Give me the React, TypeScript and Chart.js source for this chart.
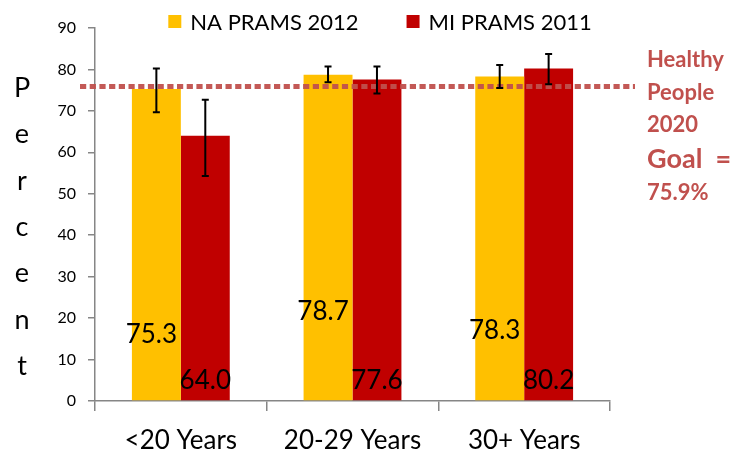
import React, { useEffect, useRef } from 'react';
import { Chart, registerables } from 'chart.js';

Chart.register(...registerables);

const categories = ['<20 Years', '20-29 Years', '30+ Years'];
const seriesNames = ['NA PRAMS 2012', 'MI PRAMS 2011'];
const naValues = [75.3, 78.7, 78.3];
const miValues = [64.0, 77.6, 80.2];
const naLow = [69.7, 76.9, 75.5];
const naHigh = [80.2, 80.7, 81.1];
const miLow = [54.3, 74.2, 76.4];
const miHigh = [72.7, 80.7, 83.7];
const goalValue = 75.9;
const yMin = 0;
const yMax = 90;
const yStep = 10;
const naLabelAt = [16, 21.5, 17];
const miLabelAt = [5, 5, 5];
const axisTitle = 'Percent';
const goalText = ['Healthy', 'People', '2020', 'Goal  =', '75.9%'];

const YELLOW = '#FFC000';
const RED = '#C00000';
const GOAL = '#C0504D';
const AXIS = '#868686';
const FONT = 'Lato, "Open Sans", sans-serif';

const lowArr = [naLow, miLow];
const highArr = [naHigh, miHigh];
const labelAt = [naLabelAt, miLabelAt];
const labelShift = [-5, 0];

const overlay = {
  id: 'overlay',
  afterDatasetsDraw(chart: any) {
    const ctx = chart.ctx;
    const y = chart.scales.y;
    const area = chart.chartArea;
    // goal line
    ctx.save();
    ctx.strokeStyle = 'rgba(192,80,77,0.95)';
    ctx.lineWidth = 5;
    ctx.setLineDash([6.2, 3.5]);
    const gy = y.getPixelForValue(goalValue);
    ctx.beginPath();
    ctx.moveTo(area.left - 15, gy);
    ctx.lineTo(area.right + 25, gy);
    ctx.stroke();
    ctx.restore();
    // error bars
    ctx.save();
    ctx.strokeStyle = '#000';
    ctx.lineWidth = 2;
    for (let d = 0; d < 2; d++) {
      const meta = chart.getDatasetMeta(d);
      meta.data.forEach((bar: any, i: number) => {
        const x = bar.x;
        const t = y.getPixelForValue(highArr[d][i]);
        const b = y.getPixelForValue(lowArr[d][i]);
        ctx.beginPath();
        ctx.moveTo(x, t);
        ctx.lineTo(x, b);
        ctx.moveTo(x - 3.5, t);
        ctx.lineTo(x + 3.5, t);
        ctx.moveTo(x - 3.5, b);
        ctx.lineTo(x + 3.5, b);
        ctx.stroke();
      });
    }
    ctx.restore();
    // value labels
    ctx.save();
    ctx.fillStyle = '#000';
    ctx.font = '26px ' + FONT;
    ctx.textAlign = 'center';
    ctx.textBaseline = 'middle';
    for (let d = 0; d < 2; d++) {
      const meta = chart.getDatasetMeta(d);
      const vals = chart.data.datasets[d].data;
      meta.data.forEach((bar: any, i: number) => {
        ctx.fillText(Number(vals[i]).toFixed(1), bar.x + labelShift[d], y.getPixelForValue(labelAt[d][i]));
      });
    }
    ctx.restore();
  },
  afterDraw(chart: any) {
    const ctx = chart.ctx;
    const area = chart.chartArea;
    // legend
    ctx.save();
    ctx.font = '22px ' + FONT;
    ctx.textBaseline = 'alphabetic';
    ctx.textAlign = 'left';
    const box = 13;
    const gapText = 9;
    const gapItem = 48;
    const ds = chart.data.datasets;
    const widths = ds.map((d: any) => box + gapText + ctx.measureText(d.label).width);
    const total = widths.reduce((a: number, b: number) => a + b, 0) + gapItem * (ds.length - 1);
    let x = chart.width / 2 + 6.5 - total / 2;
    ds.forEach((d: any, i: number) => {
      ctx.fillStyle = d.backgroundColor;
      ctx.fillRect(x, 15, box, box);
      ctx.fillStyle = '#000';
      ctx.fillText(d.label, x + box + gapText, 30);
      x += widths[i] + gapItem;
    });
    ctx.restore();
    // vertical axis title
    ctx.save();
    ctx.font = '27px ' + FONT;
    ctx.fillStyle = '#000';
    ctx.textAlign = 'center';
    ctx.textBaseline = 'alphabetic';
    axisTitle.split('').forEach((ch, i) => {
      ctx.fillText(ch, 22, 97 + i * 46.3);
    });
    ctx.restore();
    // goal text
    ctx.save();
    ctx.fillStyle = GOAL;
    ctx.textAlign = 'left';
    ctx.textBaseline = 'alphabetic';
    const bases = [67, 100, 132, 168, 200];
    const sizes = [22, 22, 22, 27, 22];
    goalText.forEach((t, i) => {
      ctx.font = 'bold ' + sizes[i] + 'px ' + FONT;
      ctx.fillText(t, area.right + 37, bases[i]);
    });
    ctx.restore();
  },
};

export default function App() {
  const ref = useRef<HTMLCanvasElement>(null);
  useEffect(() => {
    if (!ref.current) return;
    const chart = new Chart(ref.current, {
      type: 'bar',
      data: {
        labels: categories,
        datasets: [
          { label: seriesNames[0], data: naValues, backgroundColor: YELLOW, barPercentage: 1, categoryPercentage: 0.57 },
          { label: seriesNames[1], data: miValues, backgroundColor: RED, barPercentage: 1, categoryPercentage: 0.57 },
        ],
      },
      options: {
        responsive: false,
        animation: false,
        layout: { padding: { left: 0, right: 137, top: 28, bottom: 0 } },
        plugins: { legend: { display: false }, tooltip: { enabled: false } },
        scales: {
          x: {
            grid: { display: true, drawOnChartArea: false, drawTicks: true, tickLength: 10, color: AXIS, lineWidth: 1.5, offset: true },
            border: { display: true, color: AXIS, width: 1.5 },
            ticks: { color: '#000', font: { family: FONT, size: 26 }, padding: 14, maxRotation: 0 },
            afterFit: (s: any) => { s.height = 52; },
          },
          y: {
            min: yMin,
            max: yMax,
            grid: { display: true, drawOnChartArea: false, drawTicks: true, tickLength: 7, color: AXIS, lineWidth: 1.5 },
            border: { display: true, color: AXIS, width: 1.5 },
            ticks: { stepSize: yStep, color: '#000', font: { family: FONT, size: 16 }, padding: 12 },
            afterFit: (s: any) => { s.width = 95; },
          },
        },
      },
      plugins: [overlay],
    });
    return () => chart.destroy();
  }, []);
  return (
    <div style={{ position: 'fixed', left: 0, top: 0, width: 747, height: 453, background: '#fff' }}>
      <canvas ref={ref} width={747} height={453} style={{ width: 747, height: 453, display: 'block' }} />
    </div>
  );
}
